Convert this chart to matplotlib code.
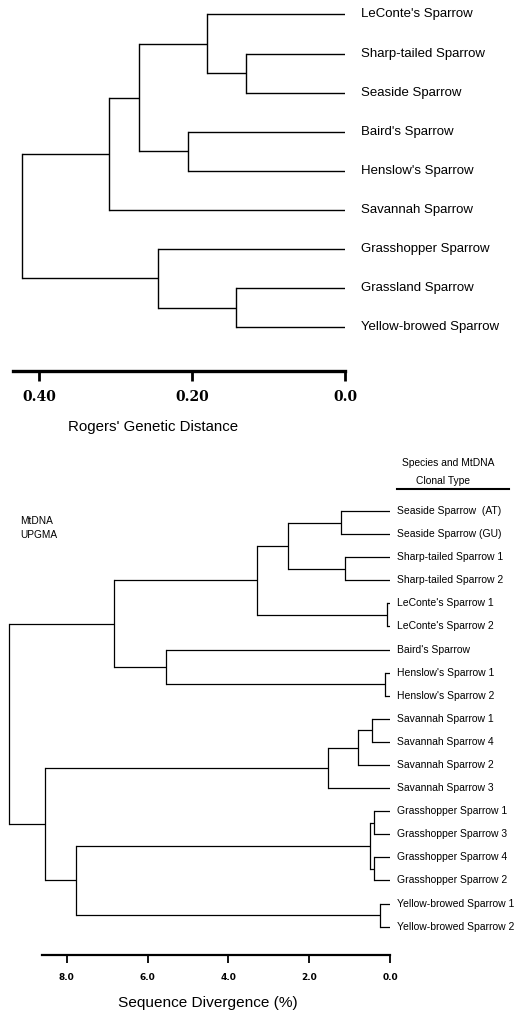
import matplotlib.pyplot as plt
from matplotlib.lines import Line2D

plt.rcParams['font.family'] = ['Liberation Sans', 'DejaVu Sans']

# ---- allozyme tree (Rogers' distance) ----
top_leaves = ["LeConte's Sparrow", "Sharp-tailed Sparrow", "Seaside Sparrow",
              "Baird's Sparrow", "Henslow's Sparrow", "Savannah Sparrow",
              "Grasshopper Sparrow", "Grassland Sparrow", "Yellow-browed Sparrow"]
# merges like a linkage table: cluster ids, leaves first, new clusters after
top_pairs = [(1, 2), (0, 9), (3, 4), (10, 11), (12, 5), (7, 8), (6, 14), (13, 15)]
top_heights = [0.130, 0.181, 0.206, 0.270, 0.308, 0.143, 0.244, 0.422]
top_ticks = [0.40, 0.20, 0.0]
top_ticklabels = ["0.40", "0.20", "0.0"]

# ---- mtDNA UPGMA tree (sequence divergence) ----
bot_leaves = ["Seaside Sparrow  (AT)", "Seaside Sparrow (GU)",
              "Sharp-tailed Sparrow 1", "Sharp-tailed Sparrow 2",
              "LeConte's Sparrow 1", "LeConte's Sparrow 2",
              "Baird's Sparrow", "Henslow's Sparrow 1", "Henslow's Sparrow 2",
              "Savannah Sparrow 1", "Savannah Sparrow 4", "Savannah Sparrow 2",
              "Savannah Sparrow 3",
              "Grasshopper Sparrow 1", "Grasshopper Sparrow 3",
              "Grasshopper Sparrow 4", "Grasshopper Sparrow 2",
              "Yellow-browed Sparrow 1", "Yellow-browed Sparrow 2"]
bot_pairs = [(0, 1), (2, 3), (19, 20), (4, 5), (21, 22), (7, 8), (6, 24),
             (23, 25), (9, 10), (27, 11), (28, 12), (13, 14), (15, 16),
             (30, 31), (17, 18), (32, 33), (29, 34), (26, 35)]
bot_heights = [1.22, 1.11, 2.52, 0.07, 3.30, 0.12, 5.54, 6.82, 0.45, 0.78,
               1.53, 0.40, 0.40, 0.50, 0.25, 7.77, 8.54, 9.42]
bot_ticks = [8.0, 6.0, 4.0, 2.0, 0.0]
bot_ticklabels = ["8.0", "6.0", "4.0", "2.0", "0.0"]


def draw_tree(ax, leaves, pairs, heights, lw):
    n = len(leaves)
    ys = {i: float(i) for i in range(n)}
    xs = {i: 0.0 for i in range(n)}
    for k, ((a, b), h) in enumerate(zip(pairs, heights)):
        for c in (a, b):
            ax.plot([xs[c], h], [ys[c], ys[c]], color='black', lw=lw,
                    solid_capstyle='butt')
        ax.plot([h, h], [ys[a], ys[b]], color='black', lw=lw,
                solid_capstyle='projecting')
        ys[n + k] = (ys[a] + ys[b]) / 2
        xs[n + k] = h


W, H = 529, 1014
fig = plt.figure(figsize=(W / 100, H / 100), dpi=100)

# top panel
ax1 = fig.add_axes([13.3 / W, 1 - 371 / H, 332.2 / W, 371 / H])
draw_tree(ax1, top_leaves, top_pairs, top_heights, 1.0)
for i, name in enumerate(top_leaves):
    ax1.annotate(name, (0, i), xytext=(11, 0), textcoords='offset points',
                 va='center', ha='left', fontsize=9.5, annotation_clip=False)
ax1.set_xlim(0.4334, 0)
ax1.set_ylim(9.12, -0.37)
for s in ['top', 'left', 'right']:
    ax1.spines[s].set_visible(False)
ax1.spines['bottom'].set_linewidth(2.4)
ax1.spines['bottom'].set_bounds(0, 0.4334)
ax1.set_yticks([])
ax1.set_xticks(top_ticks)
ax1.set_xticklabels(top_ticklabels, family='DejaVu Serif',
                    fontweight='bold', fontsize=10)
ax1.tick_params(axis='x', direction='out', length=7.5, width=2, pad=6)
fig.text(153.3 / W, 1 - 427 / H, "Rogers' Genetic Distance",
         ha='center', va='center', fontsize=10.8)

# bottom panel
ax2 = fig.add_axes([0, 1 - 955 / H, 390 / W, 455 / H])
draw_tree(ax2, bot_leaves, bot_pairs, bot_heights, 0.9)
for i, name in enumerate(bot_leaves):
    ax2.annotate(name, (0, i), xytext=(4.8, 0), textcoords='offset points',
                 va='center', ha='left', fontsize=7.5, annotation_clip=False)
ax2.set_xlim(9.651, 0)
ax2.set_ylim(19.23, -0.476)
for s in ['top', 'left', 'right']:
    ax2.spines[s].set_visible(False)
ax2.spines['bottom'].set_linewidth(1.6)
ax2.spines['bottom'].set_bounds(0, 8.6)
ax2.set_yticks([])
ax2.set_xticks(bot_ticks)
ax2.set_xticklabels(bot_ticklabels, family='DejaVu Sans', fontweight='bold',
                    fontsize=6.5)
ax2.tick_params(axis='x', direction='out', length=6, width=1.3, pad=7)
fig.text(208 / W, 1 - 1003 / H, "Sequence Divergence (%)",
         ha='center', va='center', fontsize=11.1)

fig.text(20 / W, 1 - 521 / H, "MtDNA", ha='left', va='center', fontsize=7.3)
fig.text(20 / W, 1 - 535 / H, "UPGMA", ha='left', va='center', fontsize=7.3)
fig.text(448 / W, 1 - 462.7 / H, "Species and MtDNA", ha='center',
         va='center', fontsize=7.4)
fig.text(443.3 / W, 1 - 480.7 / H, "Clonal Type", ha='center',
         va='center', fontsize=7.4)
fig.add_artist(Line2D([396.7 / W, 509 / W], [1 - 489.3 / H, 1 - 489.3 / H],
                      color='black', lw=1.5, transform=fig.transFigure))

fig.savefig('out.png', dpi=100)
